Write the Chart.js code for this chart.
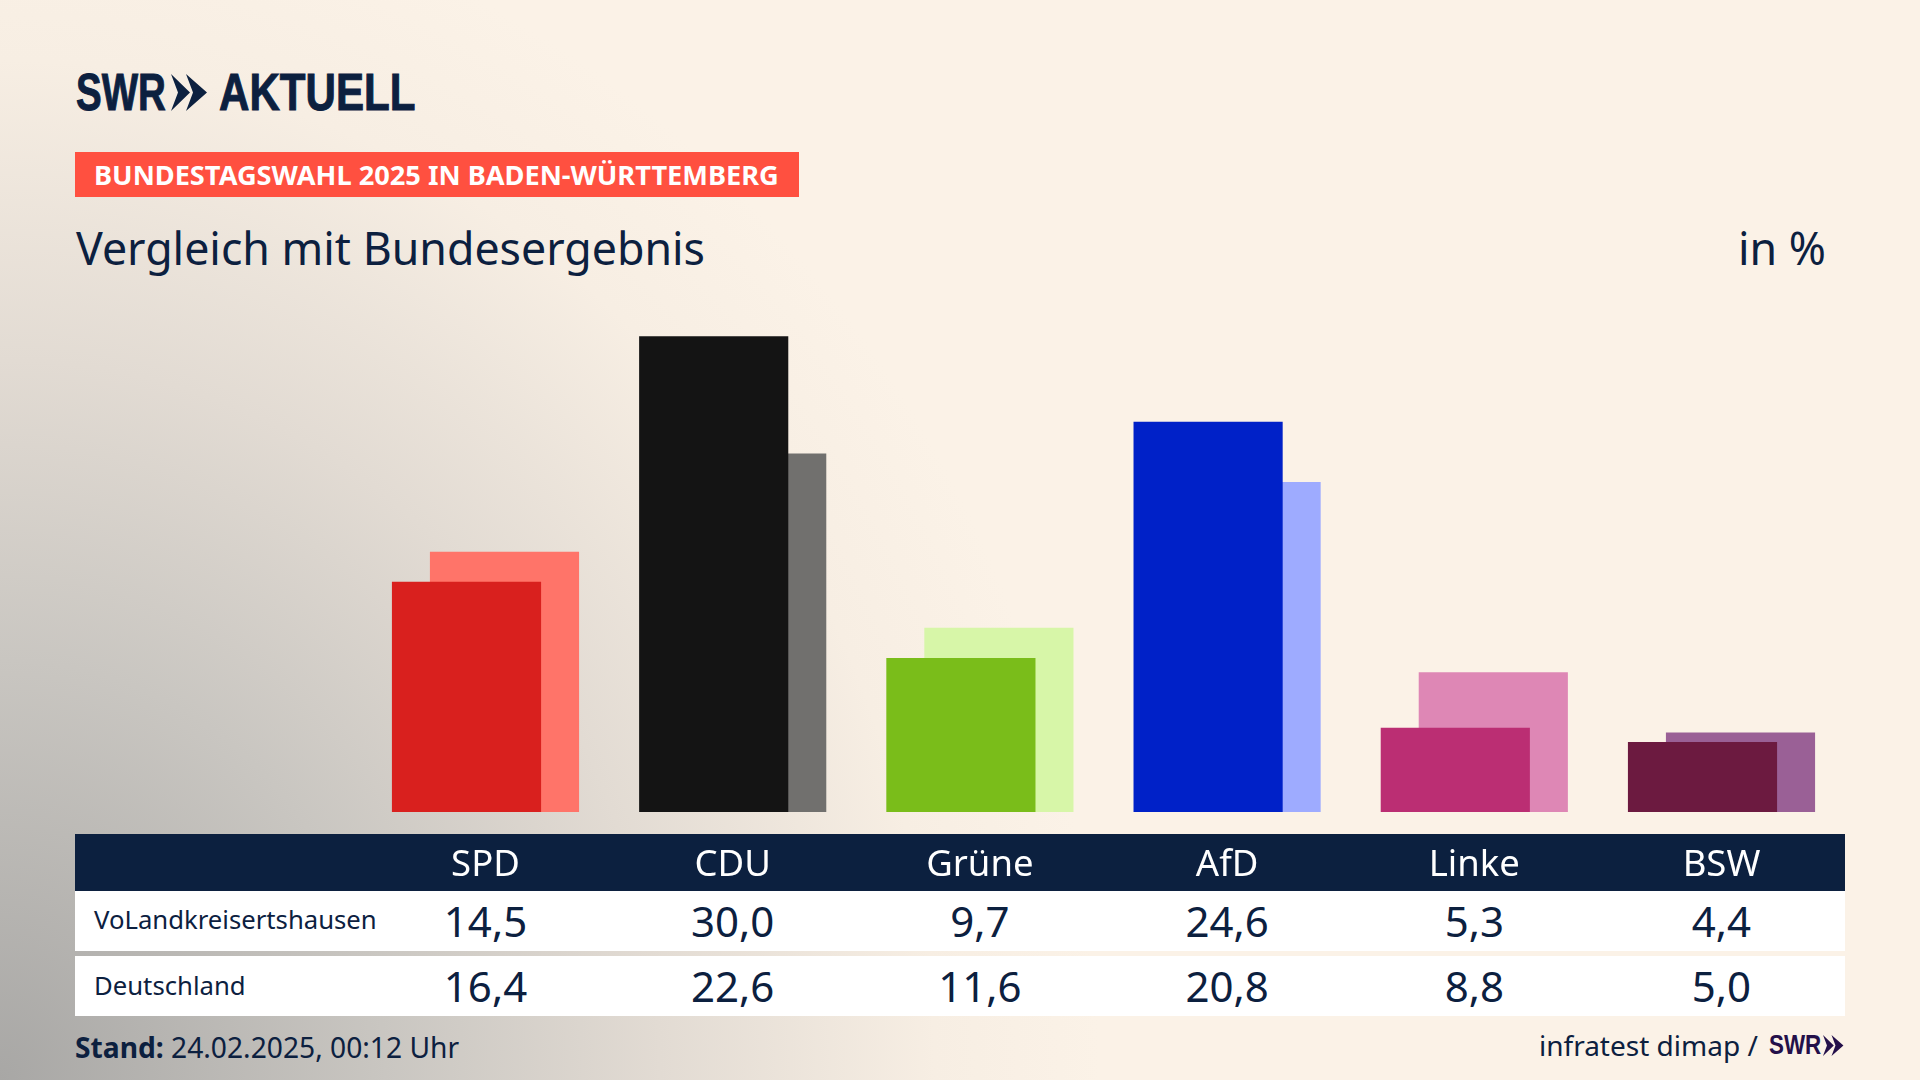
<!DOCTYPE html>
<html lang="de">
<head>
<meta charset="utf-8">
<title>Bundestagswahl 2025 in Baden-Württemberg</title>
<script src="https://cdn.jsdelivr.net/npm/chart.js@4"></script>
<style>
    html, body { margin: 0; width: 1920px; height: 1080px; overflow: hidden; }
    body {
        position: relative;
        font-family: "Noto Sans", sans-serif;
        color: #0c203f;
        background: radial-gradient(ellipse 1100px 1200px at 0% 100%, #a8a7a5 0%, #c9c6c1 35%, #e2dbd3 60%, #f7eee3 85%, #fbf2e7 100%) #fbf2e7;
    }
    body > * { position: absolute; white-space: nowrap; }
    .logotext { top: 57px; font: bold 52px/70px "Liberation Sans", sans-serif; -webkit-text-stroke: 1px #0c203f; transform-origin: left center; }
    #swr { left: 76px; transform: scaleX(0.74); }
    #aktuell { left: 219px; transform: scaleX(0.81); }
    #pfeile { left: 171px; top: 74px; width: 37px; height: 37px; }
    #kicker { left: 75px; top: 152px; width: 724px; height: 45px; line-height: 45px; background: #ff5040; color: #fff; font-size: 27.2px; font-weight: bold; box-sizing: border-box; padding-left: 19px; }
    #titel { left: 76px; top: 216px; font-size: 44.7px; line-height: 64px; }
    #einheit { right: 94px; top: 216px; font-size: 44.7px; line-height: 64px; }
    #kopf { left: 75px; top: 834px; width: 1770px; height: 57px; background: #0c203f; }
    .zeile { left: 75px; width: 1770px; height: 60px; background: #fff; }
    .name { left: 94px; font-size: 25.7px; line-height: 60px; }
    .wert { font-size: 42px; line-height: 60px; width: 200px; text-align: center; }
    #stand { left: 75px; top: 1028px; font-size: 28.2px; line-height: 38px; }
    #quelle { left: 1539px; top: 1026px; font-size: 28px; line-height: 38px; }
    #quelle-swr { left: 1769px; top: 1026px; font: bold 28px/38px "Liberation Sans", sans-serif; color: #24104a; transform: scaleX(0.8); transform-origin: left center; }
    #quelle-pfeile { left: 1823px; top: 1035px; width: 21px; height: 21px; }
    #grafico { left: 75px; top: 304px; }
</style>
</head>
<body>
    <div id="swr" class="logotext">SWR</div>
    <svg id="pfeile" viewBox="0 0 37 37"><path d="M0 0 L19 18.5 L0 37 L7 18.5 Z M15 0 L36 18.5 L15 37 L22 18.5 Z" fill="#0c203f"/></svg>
    <div id="aktuell" class="logotext">AKTUELL</div>
    <div id="kicker">BUNDESTAGSWAHL 2025 IN BADEN-WÜRTTEMBERG</div>
    <div id="titel">Vergleich mit Bundesergebnis</div>
    <div id="einheit">in %</div>
    <div id="kopf"></div>
    <div class="zeile" style="top: 891px"></div>
    <div class="zeile" style="top: 956px"></div>
    <div class="name" style="top: 890px">VoLandkreisertshausen</div>
    <div class="name" style="top: 956px">Deutschland</div>
    <canvas id="grafico"></canvas>
    <div id="stand"><b>Stand:</b> 24.02.2025, 00:12 Uhr</div>
    <div id="quelle">infratest dimap /</div>
    <div id="quelle-swr">SWR</div>
    <svg id="quelle-pfeile" viewBox="0 0 37 37"><path d="M0 0 L19 18.5 L0 37 L7 18.5 Z M15 0 L36 18.5 L15 37 L22 18.5 Z" fill="#24104a"/></svg>

<script>
const parteien = ['SPD', 'CDU', 'Grüne', 'AfD', 'Linke', 'BSW']
const landkreis = [14.5, 30.0, 9.7, 24.6, 5.3, 4.4]
const deutschland = [16.4, 22.6, 11.6, 20.8, 8.8, 5.0]

const farbenLandkreis = ['#d9201e', '#141414', '#7abd1a', '#0021c8', '#bb2e73', '#6c1a40']
const farbenDeutschland = ['#ff7469', '#71706e', '#d7f6a8', '#9eabff', '#de87b5', '#9a6096']

// abstand der parteien im bild: 247.2px, die balken sind 38px versetzt
const versatz = 19 / 247.2

// werte in der tabelle, gleiche mitte wie die balken
function zeile(werte, top) {
    werte.forEach((wert, i) => {
        const el = document.createElement('div')
        el.className = 'wert'
        el.style.top = top + 'px'
        el.style.left = (485.5 + 247.2 * i - 100) + 'px'
        el.textContent = wert.toFixed(1).replace('.', ',')
        document.body.appendChild(el)
    })
}
zeile(landkreis, 891)
zeile(deutschland, 956)

const ctx = document.getElementById('grafico').getContext('2d')

ctx.canvas.width = 1770
ctx.canvas.height = 586

const grafico = new Chart(ctx, {
    type: 'bar',
    data: {
        datasets: [{
            label: 'Deutschland',
            data: deutschland.map((wert, i) => ({ x: i + versatz, y: wert })),
            backgroundColor: farbenDeutschland,
            order: 2
        }, {
            label: 'VoLandkreisertshausen',
            data: landkreis.map((wert, i) => ({ x: i - versatz, y: wert })),
            backgroundColor: farbenLandkreis,
            order: 1
        }]
    },
    options: {
        responsive: false,
        animation: false,
        grouped: false,
        barThickness: 148.5,
        layout: { padding: 0 },
        plugins: {
            legend: { display: false },
            tooltip: { enabled: false }
        },
        scales: {
            x: {
                type: 'linear',
                offset: false,
                min: -410.5 / 247.2,
                max: 1359.5 / 247.2,
                grid: { display: false },
                border: { display: false },
                afterBuildTicks: axis => { axis.ticks = parteien.map((p, i) => ({ value: i })) },
                afterFit: axis => { axis.height = 78 },
                ticks: {
                    autoSkip: false,
                    maxRotation: 0,
                    padding: 24,
                    color: '#ffffff',
                    font: { family: '"Noto Sans", sans-serif', size: 36.5 },
                    callback: value => parteien[value]
                }
            },
            y: {
                display: false,
                min: 0,
                max: 32.05
            }
        }
    }
})
</script>
</body>
</html>
